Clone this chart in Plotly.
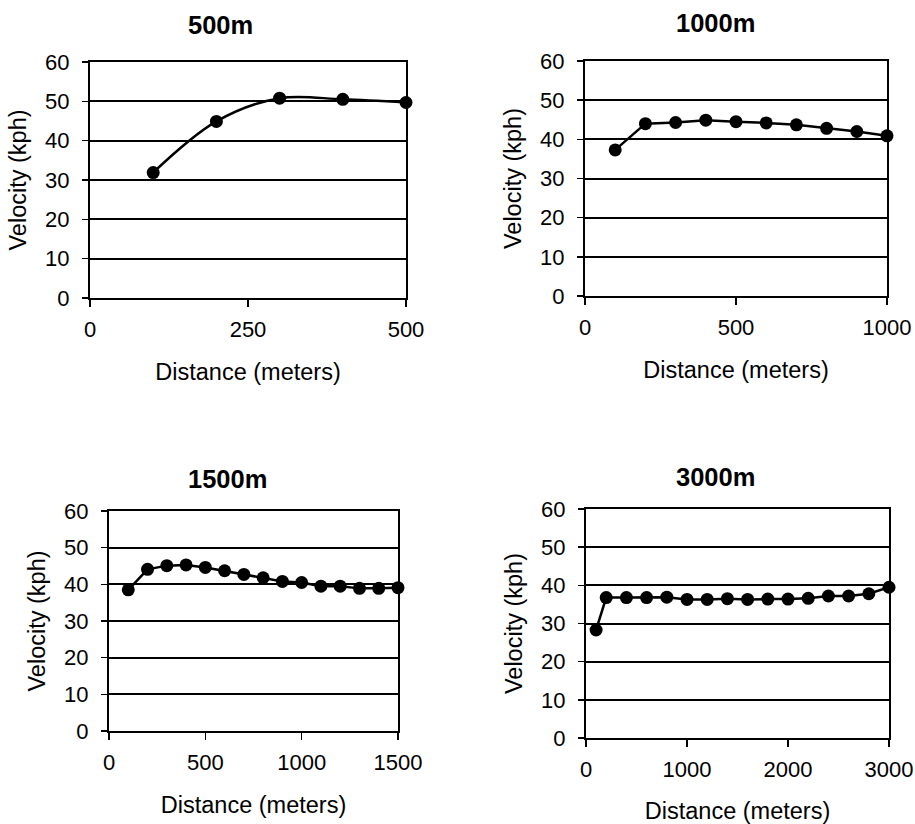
import plotly.graph_objects as go

# ---- data ----
titles = ["500m", "1000m", "1500m", "3000m"]

x500 = [100, 200, 300, 400, 500]
v500 = [31.9, 44.9, 50.8, 50.5, 49.7]

x1000 = [100, 200, 300, 400, 500, 600, 700, 800, 900, 1000]
v1000 = [37.3, 44.0, 44.3, 44.9, 44.5, 44.2, 43.7, 42.8, 42.0, 40.9]

x1500 = [100, 200, 300, 400, 500, 600, 700, 800, 900, 1000, 1100, 1200, 1300, 1400, 1500]
v1500 = [38.5, 44.1, 45.1, 45.3, 44.6, 43.7, 42.7, 41.8, 40.8, 40.5, 39.5, 39.5, 38.9, 38.9, 39.1]

x3000 = [100, 200, 400, 600, 800, 1000, 1200, 1400, 1600, 1800, 2000, 2200, 2400, 2600, 2800, 3000]
v3000 = [28.3, 36.8, 36.8, 36.8, 36.9, 36.3, 36.3, 36.5, 36.3, 36.4, 36.4, 36.6, 37.2, 37.2, 37.8, 39.5]

xmax = [500, 1000, 1500, 3000]
xticks = [[0, 250, 500], [0, 500, 1000], [0, 500, 1000, 1500], [0, 1000, 2000, 3000]]
yticks = [0, 10, 20, 30, 40, 50, 60]

W, H = 915, 824
# page-pixel boxes (left, right, top, bottom)
boxes = [(90, 406, 62, 298), (585, 887, 61, 296), (109, 398, 511, 731), (586, 889, 509, 738)]
title_pos = [(220, 25), (715, 23), (227, 479), (715, 477)]


def px(x):
    return x / W


def py(y):
    return 1 - y / H


FONT = "Liberation Sans, Arial, sans-serif"

fig = go.Figure()
series = [(x500, v500, "spline"), (x1000, v1000, "linear"), (x1500, v1500, "linear"), (x3000, v3000, "linear")]

layout = dict(
    width=W, height=H,
    margin=dict(l=0, r=0, t=0, b=0, autoexpand=False),
    paper_bgcolor="white", plot_bgcolor="white",
    showlegend=False,
    hovermode=False,
    font=dict(family=FONT, color="black"),
    annotations=[],
)

for i, (xs, vs, shape) in enumerate(series):
    n = "" if i == 0 else str(i + 1)
    fig.add_trace(go.Scatter(
        x=xs, y=vs, mode="lines+markers",
        line=dict(color="black", width=2.5, shape=shape),
        marker=dict(color="black", size=13),
        cliponaxis=False,
        xaxis="x" + n, yaxis="y" + n,
    ))
    l, r, t, b = boxes[i]
    layout["xaxis" + n] = dict(
        domain=[px(l), px(r)], anchor="y" + n, automargin=False,
        range=[0, xmax[i]], tickvals=xticks[i],
        showgrid=False, zeroline=False,
        showline=True, mirror=True, linecolor="black", linewidth=2,
        ticks="outside", ticklen=7, tickcolor="black", tickwidth=1.5,
        ticklabelstandoff=4,
        tickfont=dict(size=22, family=FONT, color="black"),
        title=dict(text="Distance (meters)", font=dict(size=23.5, family=FONT, color="black"), standoff=22),
    )
    layout["yaxis" + n] = dict(
        domain=[py(b), py(t)], anchor="x" + n, automargin=False,
        range=[0, 60], tickvals=yticks,
        showgrid=True, gridcolor="black", gridwidth=2, zeroline=False,
        showline=True, mirror=True, linecolor="black", linewidth=2,
        ticks="outside", ticklen=6, tickcolor="black", tickwidth=1.5,
        ticklabelstandoff=8,
        tickfont=dict(size=22, family=FONT, color="black"),
        title=dict(text="Velocity (kph)", font=dict(size=23.5, family=FONT, color="black"), standoff=12),
    )
    tx, ty = title_pos[i]
    layout["annotations"].append(dict(
        text="<b>" + titles[i] + "</b>", x=px(tx), y=py(ty),
        xref="paper", yref="paper", xanchor="center", yanchor="middle",
        showarrow=False, font=dict(size=25.5, family=FONT, color="black"),
    ))

fig.update_layout(**layout)
fig.write_html(
    "out.html",
    config={"displayModeBar": False, "staticPlot": True},
    post_script="document.body.style.margin='0';document.body.style.overflow='hidden';",
)
